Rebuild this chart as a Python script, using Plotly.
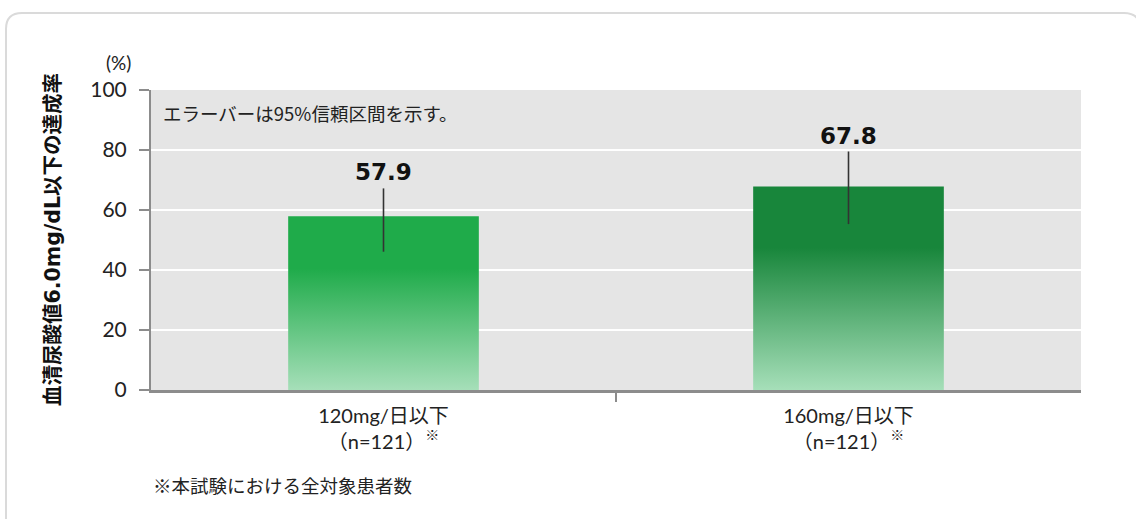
import plotly.graph_objects as go

# data
categories = ["120mg/日以下<br>（n=121）<sup>※</sup>", "160mg/日以下<br>（n=121）<sup>※</sup>"]
rates = [57.9, 67.8]
ci_upper = [67.2, 79.5]
ci_lower = [46.1, 55.3]
value_labels = ["57.9", "67.8"]
top_colors = ["#1fab4a", "#18863b"]
bottom_color = "#a6dfb9"

# layout in pixels
W, H = 1136, 519
L, R, T, B = 151, 55, 90, 129
PW = W - L - R
PH = H - T - B
BAR_W = 0.41
FONT = "Lato, 'Noto Sans CJK JP', sans-serif"
JP = "'Noto Sans CJK JP', sans-serif"


def px_x(p):
    return (p - L) / PW


def px_y(p):
    return (H - B - p) / PH


fig = go.Figure()

xs = list(range(len(categories)))
for i, v in enumerate(rates):
    x0, x1 = xs[i] - BAR_W / 2, xs[i] + BAR_W / 2
    fig.add_trace(go.Scatter(
        x=[x0, x1, x1, x0, x0], y=[0, 0, v, v, 0],
        mode="lines", fill="toself", line=dict(width=0),
        fillgradient=dict(type="vertical",
                          colorscale=[[0, bottom_color], [0.7, top_colors[i]], [1, top_colors[i]]]),
        hoverinfo="skip", showlegend=False))

plus = [u - v for u, v in zip(ci_upper, rates)]
minus = [v - l for l, v in zip(ci_lower, rates)]
fig.add_trace(go.Scatter(
    x=xs, y=rates, mode="markers", marker=dict(size=1, opacity=0),
    error_y=dict(type="data", symmetric=False, array=plus, arrayminus=minus,
                 width=0, thickness=1.6, color="#333333"),
    showlegend=False))

for i, txt in enumerate(value_labels):
    fig.add_annotation(x=xs[i], y=ci_upper[i], text="<b>" + txt + "</b>",
                       showarrow=False, yanchor="bottom", yshift=1,
                       font=dict(family="DejaVu Sans", size=23, color="#111111"))

# card border
cl, ct, cr, cb, rad = 6, 13, 1140, 560, 16
card = (f"M {px_x(cl)},{px_y(cb)} L {px_x(cl)},{px_y(ct + rad)} "
        f"Q {px_x(cl)},{px_y(ct)} {px_x(cl + rad)},{px_y(ct)} "
        f"L {px_x(cr - rad)},{px_y(ct)} Q {px_x(cr)},{px_y(ct)} {px_x(cr)},{px_y(ct + rad)} "
        f"L {px_x(cr)},{px_y(cb)}")
fig.add_shape(type="path", path=card, xref="paper", yref="paper",
              line=dict(color="#dadada", width=2), layer="below")

fig.add_annotation(x=px_x(161), y=px_y(113), xref="paper", yref="paper",
                   text="エラーバーは95%信頼区間を示す。", showarrow=False,
                   xanchor="left", yanchor="middle", font=dict(family=JP, size=18.5, color="#222222"))
fig.add_annotation(x=px_x(133), y=px_y(62), xref="paper", yref="paper",
                   text="(%)", showarrow=False, xanchor="right", yanchor="middle",
                   font=dict(size=19, color="#222222"))
fig.add_annotation(x=px_x(53), y=0.5, xref="paper", yref="paper",
                   text="<b>血清尿酸値6.0mg/dL以下の達成率</b>", showarrow=False,
                   textangle=-90, xanchor="center", yanchor="middle",
                   font=dict(family="'DejaVu Sans', 'Noto Sans CJK JP', sans-serif",
                             size=20.5, color="#111111"))
fig.add_annotation(x=px_x(151), y=px_y(485), xref="paper", yref="paper",
                   text="※本試験における全対象患者数", showarrow=False,
                   xanchor="left", yanchor="middle", font=dict(family=JP, size=18.5, color="#222222"))

fig.update_layout(
    width=W, height=H,
    margin=dict(l=L, r=R, t=T, b=B),
    paper_bgcolor="white", plot_bgcolor="#e5e5e5",
    font=dict(family=FONT, color="#222222"),
    xaxis=dict(range=[-0.5, 1.5], tickvals=xs, ticktext=categories,
               showgrid=False, zeroline=False, ticks="",
               showline=True, linecolor="#8c8c8c", linewidth=2.5,
               tickfont=dict(size=20, color="#222222"), ticklabelstandoff=6,
               minor=dict(tickvals=[0.5], ticks="outside", ticklen=9,
                          tickwidth=2, tickcolor="#8c8c8c", showgrid=False)),
    yaxis=dict(range=[0, 100], dtick=20, showgrid=True, gridcolor="white", gridwidth=2,
               zeroline=False, showline=True, linecolor="#8c8c8c", linewidth=2,
               ticks="outside", ticklen=10, tickwidth=2, tickcolor="#8c8c8c",
               tickfont=dict(size=21, color="#222222"), ticklabelstandoff=8),
)

fig.write_html("out.html", config={"displayModeBar": False},
               post_script="document.body.style.margin='0';document.body.style.overflow='hidden';")
